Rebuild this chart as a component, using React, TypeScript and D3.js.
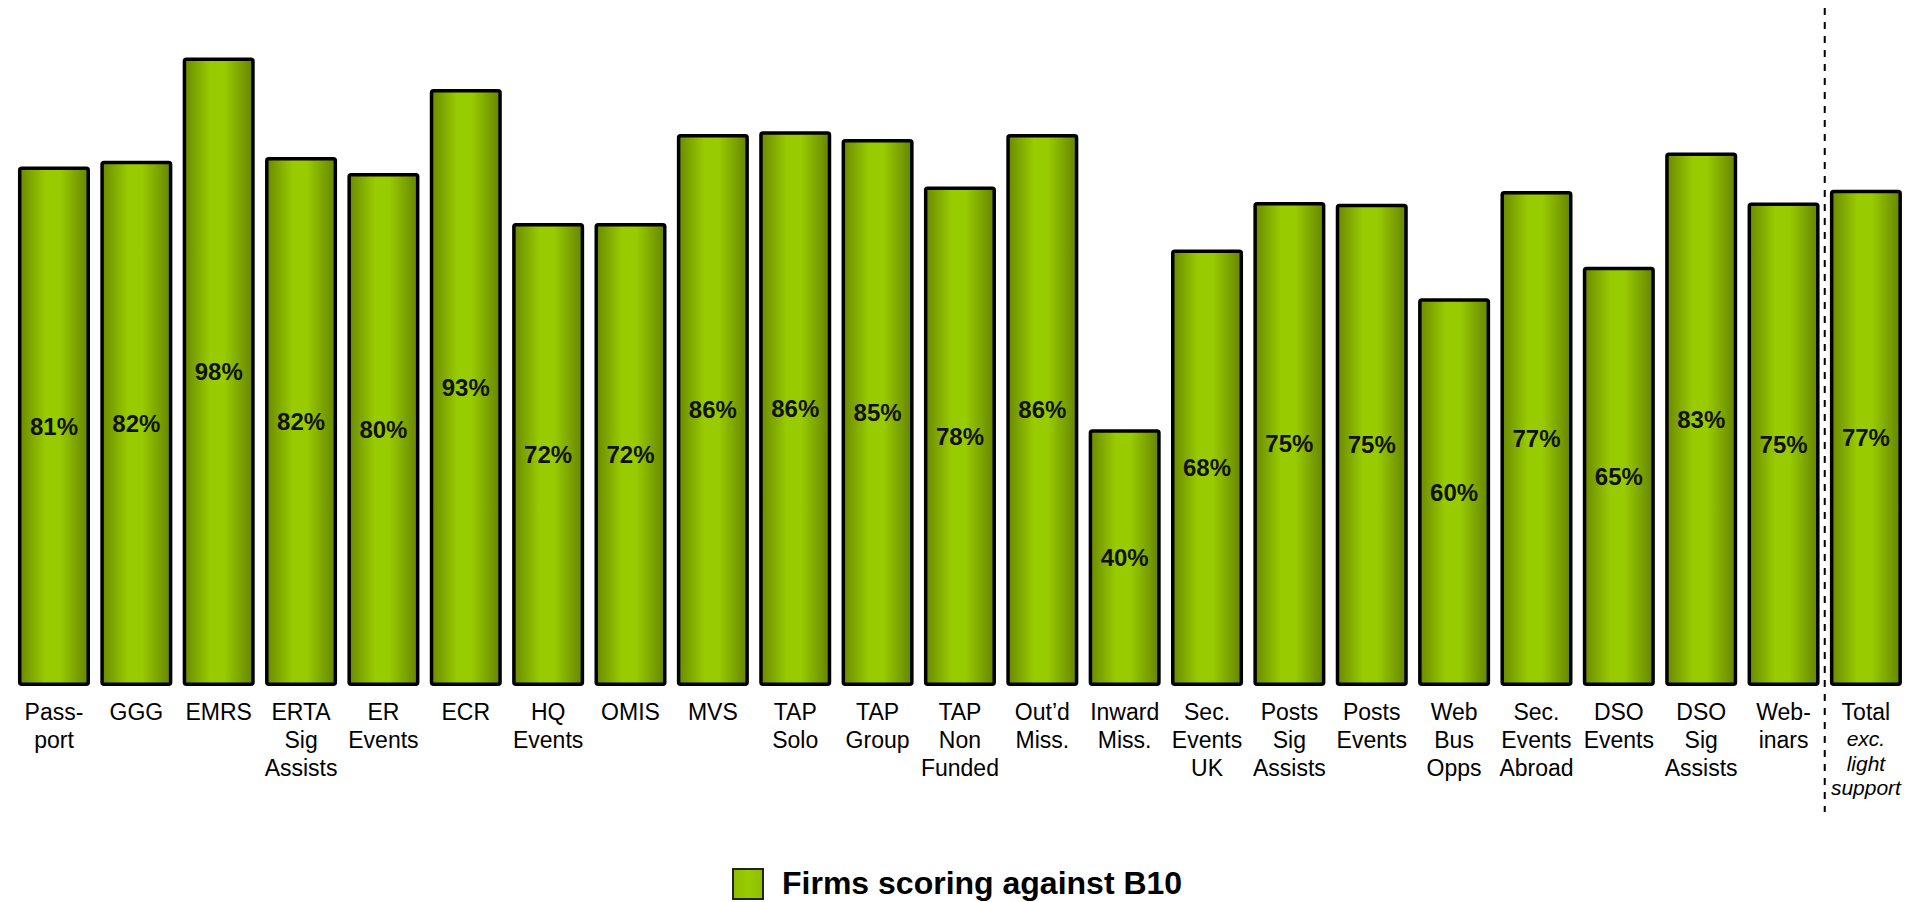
import React from "react";
import * as d3 from "d3";

const categories: string[][] = [
  ["Pass-", "port"], ["GGG"], ["EMRS"], ["ERTA", "Sig", "Assists"], ["ER", "Events"], ["ECR"],
  ["HQ", "Events"], ["OMIS"], ["MVS"], ["TAP", "Solo"], ["TAP", "Group"], ["TAP", "Non", "Funded"],
  ["Out\u2019d", "Miss."], ["Inward", "Miss."], ["Sec.", "Events", "UK"], ["Posts", "Sig", "Assists"],
  ["Posts", "Events"], ["Web", "Bus", "Opps"], ["Sec.", "Events", "Abroad"], ["DSO", "Events"],
  ["DSO", "Sig", "Assists"], ["Web-", "inars"], ["Total"],
];
const totalSubLines: string[] = ["exc.", "light", "support"];
const values: number[] = [
  80.9, 81.8, 97.9, 82.4, 79.9, 93.0, 72.1, 72.1, 86.0, 86.4, 85.2, 77.8, 86.0, 40.0,
  68.0, 75.4, 75.1, 60.4, 77.1, 65.3, 83.1, 75.3, 77.3,
];
const legendLabel = "Firms scoring against B10";

const W = 1909;
const H = 902;
const FONT = "'Liberation Sans', Arial, Helvetica, sans-serif";

export default function App() {
  const idx = values.map((_, i) => String(i));
  const x = d3
    .scaleBand<string>()
    .domain(idx)
    .range([12.8, 1907.1])
    .paddingInner(0.168)
    .paddingOuter(0.084);
  const y = d3.scaleLinear().domain([0, 100]).range([686, 44]);
  const sw = 3.5;
  const bw = x.bandwidth();
  const dashX = ((x("21") as number) + bw + (x("22") as number)) / 2;

  return (
    <svg
      width={W}
      height={H}
      style={{ display: "block", position: "absolute", left: 0, top: 0, fontFamily: FONT }}
    >
      <defs>
        <linearGradient id="barGrad" x1="0" x2="1" y1="0" y2="0">
          <stop offset="0%" stopColor="#6a8a00" />
          <stop offset="38%" stopColor="#99cc00" />
          <stop offset="58%" stopColor="#99cc00" />
          <stop offset="100%" stopColor="#668500" />
        </linearGradient>
        <linearGradient id="legGrad" x1="0" x2="1" y1="0" y2="0">
          <stop offset="0%" stopColor="#8fbd00" />
          <stop offset="50%" stopColor="#99cc00" />
          <stop offset="100%" stopColor="#8fbd00" />
        </linearGradient>
      </defs>
      {values.map((v, i) => {
        const x0 = x(String(i)) as number;
        const top = y(v);
        const bottom = y(0);
        return (
          <g key={i}>
            <rect
              x={x0}
              y={top + sw / 2}
              width={bw}
              height={bottom - top - sw}
              rx={2}
              fill="url(#barGrad)"
              stroke="#000"
              strokeWidth={sw}
            />
            <text
              x={x0 + bw / 2}
              y={(top + bottom) / 2}
              textAnchor="middle"
              dominantBaseline="central"
              fontSize={24}
              fontWeight="bold"
              fill="#111"
            >
              {Math.round(v)}%
            </text>
          </g>
        );
      })}
      {categories.map((lines, i) => {
        const cx = (x(String(i)) as number) + bw / 2;
        return (
          <text key={i} x={cx} textAnchor="middle" fontSize={23} fill="#000">
            {lines.map((l, j) => (
              <tspan key={j} x={cx} y={720 + j * 28}>
                {l}
              </tspan>
            ))}
            {i === categories.length - 1 &&
              totalSubLines.map((l, j) => (
                <tspan key={"s" + j} x={cx} y={746 + j * 24.5} fontStyle="italic" fontSize={21}>
                  {l}
                </tspan>
              ))}
          </text>
        );
      })}
      <line
        x1={dashX}
        x2={dashX}
        y1={8}
        y2={812}
        stroke="#000"
        strokeWidth={2}
        strokeDasharray="7,7"
      />
      <rect x={733} y={869} width={30} height={30} fill="url(#legGrad)" stroke="#222" strokeWidth={2} />
      <text x={782} y={894} fontSize={32} fontWeight="bold" fill="#000">
        {legendLabel}
      </text>
    </svg>
  );
}
